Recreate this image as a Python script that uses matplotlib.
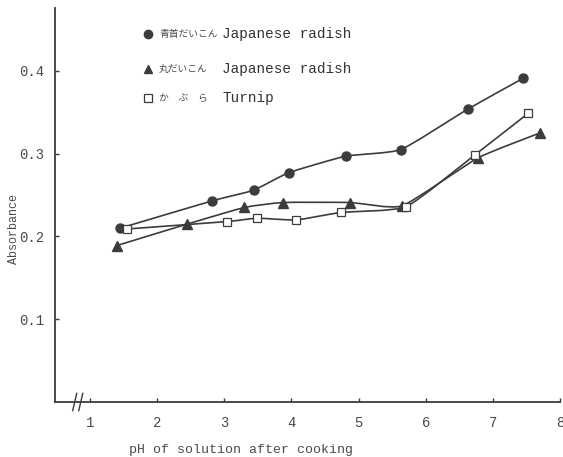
import numpy as np
import matplotlib
matplotlib.use("Agg")
import matplotlib.pyplot as plt
from matplotlib.path import Path
from matplotlib.patches import PathPatch

plt.rcParams['font.family'] = ['Liberation Mono', 'DejaVu Sans Mono']

# pH after cooking / absorbance for each vegetable
aokubi_ph = [1.45, 2.82, 3.44, 3.96, 4.81, 5.63, 6.63, 7.45]
aokubi_abs = [0.210, 0.243, 0.256, 0.277, 0.297, 0.305, 0.354, 0.391]

maru_ph = [1.40, 2.45, 3.30, 3.88, 4.87, 5.65, 6.78, 7.70]
maru_abs = [0.189, 0.215, 0.235, 0.241, 0.241, 0.237, 0.295, 0.325]

kabura_ph = [1.55, 3.04, 3.49, 4.07, 4.74, 5.71, 6.74, 7.53]
kabura_abs = [0.209, 0.218, 0.222, 0.220, 0.229, 0.236, 0.299, 0.349]

x_ticks = [1, 2, 3, 4, 5, 6, 7, 8]
y_ticks = [0.1, 0.2, 0.3, 0.4]
y_tick_labels = ['0.1', '0.2', '0.3', '0.4']

ink = '#3c3c3c'
text_c = '#4a4a4a'


def smooth_path(xs, ys, tension=0.5):
    # catmull-rom through the points, turned into cubic bezier pieces
    p = np.column_stack([xs, ys])
    ext = np.vstack([p[0], p, p[-1]])
    k = tension / 6.0
    verts = [p[0]]
    codes = [Path.MOVETO]
    for i in range(1, len(ext) - 2):
        c1 = ext[i] + (ext[i + 1] - ext[i - 1]) * k
        c2 = ext[i + 1] - (ext[i + 2] - ext[i]) * k
        verts += [c1, c2, ext[i + 1]]
        codes += [Path.CURVE4] * 3
    return Path(verts, codes)


fig = plt.figure(figsize=(5.63, 4.57), dpi=100)
ax = fig.add_axes([55 / 563, 1 - 402 / 457, 505 / 563, 394 / 457])

for xs, ys in [(aokubi_ph, aokubi_abs), (maru_ph, maru_abs), (kabura_ph, kabura_abs)]:
    ax.add_patch(PathPatch(smooth_path(xs, ys), fill=False, ec=ink, lw=1.2))

ax.plot(aokubi_ph, aokubi_abs, 'o', ms=6.5, color=ink, mec=ink, ls='none', zorder=3)
ax.plot(maru_ph, maru_abs, '^', ms=6.5, color=ink, mec=ink, ls='none', zorder=3)
ax.plot(kabura_ph, kabura_abs, 's', ms=6, mfc='white', mec=ink, mew=0.9, ls='none', zorder=3)

ax.set_xlim(0.48, 8.0)
ax.set_ylim(0, 0.476)
ax.spines['top'].set_visible(False)
ax.spines['right'].set_visible(False)
for s in ['left', 'bottom']:
    ax.spines[s].set_color(ink)
    ax.spines[s].set_linewidth(1.3)

ax.set_xticks(x_ticks)
ax.set_xticklabels([str(t) for t in x_ticks])
ax.set_yticks(y_ticks)
ax.set_yticklabels(y_tick_labels)
ax.tick_params(axis='x', direction='in', length=3, width=1, color=ink,
               pad=10, labelsize=10, labelcolor=text_c)
ax.tick_params(axis='y', direction='in', length=3, width=1, color=ink,
               pad=8, labelsize=10, labelcolor=text_c)

# break mark on the pH axis
for dx in (0.0, 0.012):
    ax.plot([0.035 + dx, 0.043 + dx], [-0.022, 0.022], transform=ax.transAxes,
            color=ink, lw=1.0, clip_on=False)

ax.text(0.368, -0.122, 'pH of solution after cooking', transform=ax.transAxes,
        ha='center', va='center', fontsize=9.5, color=text_c)
ax.text(-0.082, 0.44, 'Absorbance', transform=ax.transAxes, rotation=90,
        ha='center', va='center', fontsize=8.5, color=text_c)

# key
jp = ['Noto Sans CJK JP', 'DejaVu Sans']
ax.plot([0.184], [0.934], 'o', ms=6, color=ink, transform=ax.transAxes, clip_on=False)
ax.text(0.206, 0.934, '青首だいこん', family=jp, fontsize=7, color=text_c,
        ha='left', va='center', transform=ax.transAxes)
ax.text(0.331, 0.934, 'Japanese radish', fontsize=10.4, color='#333333',
        ha='left', va='center', transform=ax.transAxes)

ax.plot([0.184], [0.845], '^', ms=6, color=ink, transform=ax.transAxes, clip_on=False)
ax.text(0.206, 0.845, '丸だいこん', family=jp, fontsize=7, color=text_c,
        ha='left', va='center', transform=ax.transAxes)
ax.text(0.331, 0.845, 'Japanese radish', fontsize=10.4, color='#333333',
        ha='left', va='center', transform=ax.transAxes)

ax.plot([0.184], [0.772], 's', ms=5.5, mfc='white', mec=ink, mew=0.9,
        transform=ax.transAxes, clip_on=False)
ax.text(0.206, 0.772, 'か　ぶ　ら', family=jp, fontsize=7, color=text_c,
        ha='left', va='center', transform=ax.transAxes)
ax.text(0.331, 0.772, 'Turnip', fontsize=10.4, color='#333333',
        ha='left', va='center', transform=ax.transAxes)

fig.savefig('out.png', dpi=100)
